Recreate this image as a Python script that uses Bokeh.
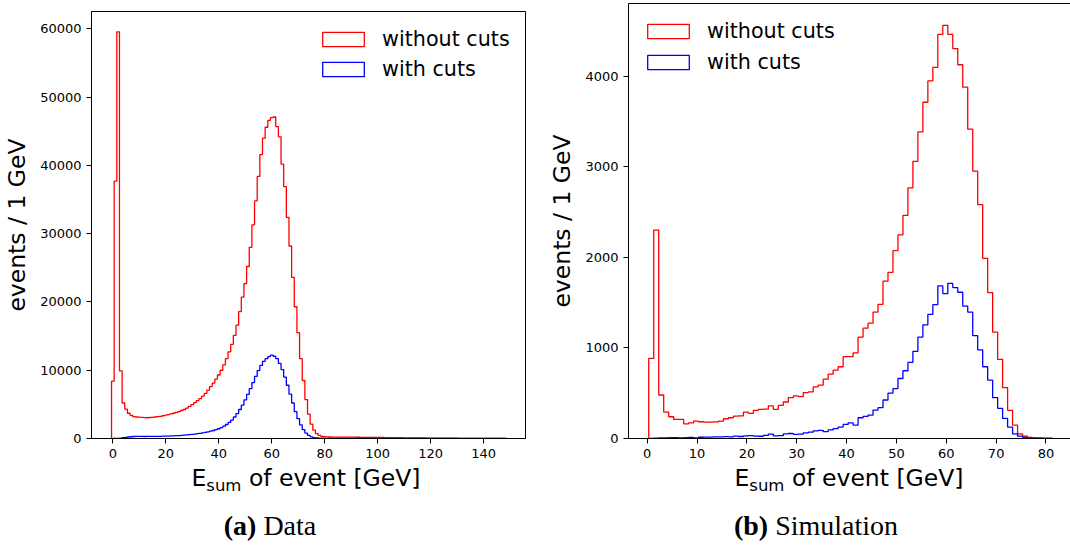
import numpy as np
from bokeh.plotting import figure
from bokeh.models import (Range1d, FixedTicker, Legend, LegendItem, Div,
                          NumeralTickFormatter, ColumnDataSource, LinearAxis)
from bokeh.layouts import row, column
from bokeh.embed import file_html
from bokeh.resources import INLINE

# ---------------- data: panel (a) Data, 1 GeV bins starting at -0.5 ----------------
data_first_edge = -0.5
data_bin_width = 1.0
data_without_cuts = [
    8400, 37700, 59580, 9900, 5200, 4300, 3700, 3400, 3200, 3150,
    3120, 3100, 3060, 3040, 3080, 3100, 3150, 3200, 3250, 3330,
    3420, 3500, 3600, 3700, 3820, 3950, 4100, 4250, 4450, 4700,
    4950, 5250, 5550, 5850, 6200, 6600, 7100, 7600, 8100, 8700,
    9300, 10000, 10800, 11700, 12700, 13800, 15100, 16600, 18600, 20700,
    22700, 25200, 28000, 31300, 34800, 38400, 41600, 44000, 45600, 46600,
    47000, 47100, 45700, 44200, 40200, 36900, 32400, 28200, 23600, 19300,
    15500, 11700, 8500, 5700, 3560, 2100, 1220, 700, 450, 320,
    260, 235, 222, 214, 210, 203, 200, 198, 193, 196,
    189, 190, 184, 186, 178, 175, 171, 168, 164, 160,
    154, 150, 146, 139, 136, 130, 126, 119, 116, 110,
    106, 99, 95, 91, 85, 82, 77, 74, 70, 65,
    62, 57, 55, 51, 49, 45, 43, 40, 37, 35,
    33, 30, 29, 27, 25, 23, 21, 19, 17, 15,
    13, 11, 9, 7, 5, 4, 3, 2, 1,
]
data_with_cuts = [
    0, 0, 0, 60, 120, 170, 220, 260, 290, 300,
    300, 300, 295, 300, 300, 305, 310, 315, 320, 340,
    350, 360, 375, 390, 410, 430, 455, 485, 520, 560,
    600, 650, 700, 760, 830, 900, 980, 1070, 1170, 1290,
    1430, 1600, 1800, 2050, 2350, 2700, 3150, 3650, 4250, 4900,
    5650, 6450, 7300, 8200, 9100, 9950, 10700, 11300, 11700, 12000,
    12200, 12050, 11700, 11000, 10100, 9000, 7800, 6500, 5200, 3950,
    2900, 2000, 1300, 800, 450, 250, 140, 80, 50, 35,
    28, 25, 24, 23, 22, 21, 20, 20, 19, 18,
    18, 17, 16, 16, 15, 14, 14, 13, 13, 12,
    12, 11, 11, 10, 10, 9, 9, 8, 8, 8,
    7, 7, 7, 6, 6, 6, 5, 5, 5, 5,
    4, 4, 4, 4, 3, 3, 3, 3, 3, 2,
    2, 2, 2, 2, 2, 1, 1, 1, 1, 1,
    1, 1, 1, 0, 0, 0, 0, 0, 0,
]

# ---------------- data: panel (b) Simulation, 1 GeV bins starting at 0.3 ----------------
sim_first_edge = 0.3
sim_bin_width = 1.0
sim_without_cuts = [
    884, 2300, 480, 292, 240, 211, 211, 162, 173, 192,
    185, 181, 181, 183, 192, 218, 229, 248, 250, 292,
    278, 311, 322, 324, 359, 322, 366, 403, 451, 470,
    463, 507, 514, 570, 589, 655, 711, 755, 792, 903,
    903, 944, 1118, 1218, 1273, 1395, 1481, 1736, 1833, 2073,
    2248, 2462, 2766, 3059, 3384, 3711, 3947, 4095, 4460, 4560,
    4460, 4303, 4125, 3877, 3414, 2951, 2581, 1989, 1611, 1173,
    873, 562, 311, 148, 52, 26, 12, 8, 6, 5,
    3,
]
sim_with_cuts = [
    0, 4, 6, 8, 10, 9, 8, 10, 12, 8,
    14, 16, 15, 17, 18, 20, 18, 26, 22, 30,
    32, 27, 25, 34, 48, 30, 32, 50, 55, 46,
    48, 62, 70, 85, 90, 75, 95, 110, 126, 155,
    173, 148, 229, 244, 259, 314, 340, 425, 500, 551,
    662, 748, 840, 962, 1118, 1255, 1370, 1477, 1684, 1600,
    1711, 1666, 1614, 1462, 1395, 1136, 978, 792, 644, 451,
    333, 222, 126, 52, 26, 12, 5, 3, 2, 1,
    0,
]

# ---------------- axes / labels ----------------
a_x_ticks = [0, 20, 40, 60, 80, 100, 120, 140]
a_y_ticks = [0, 10000, 20000, 30000, 40000, 50000, 60000]
b_x_ticks = [0, 10, 20, 30, 40, 50, 60, 70, 80]
b_y_ticks = [0, 1000, 2000, 3000, 4000]
series_labels = ["without cuts", "with cuts"]
series_colors = ["#ff0000", "#0000ff"]
y_label = "events / 1 GeV"
x_label_main = "E"
x_label_sub = "sum"
x_label_rest = " of event [GeV]"
captions = [("(a)", "Data"), ("(b)", "Simulation")]

SANS = "DejaVu Sans"
SERIF = "Liberation Serif"
FIG_H = 463


def step_source(first_edge, width, counts):
    n = len(counts)
    edges = first_edge + width * np.arange(n + 1)
    xs = np.concatenate([[edges[0]], edges])
    ys = np.concatenate([[0.0], np.asarray(counts, dtype=float), [0.0]])
    return ColumnDataSource(data=dict(x=xs, y=ys))


def style_axis(ax, ticks):
    ax.ticker = FixedTicker(ticks=ticks)
    ax.formatter = NumeralTickFormatter(format="0")
    ax.axis_line_color = "black"
    ax.axis_line_width = 1
    ax.major_tick_line_color = "black"
    ax.major_tick_line_width = 1
    ax.major_tick_out = 5
    ax.major_tick_in = 0
    ax.minor_tick_line_color = None
    ax.major_label_text_font = SANS
    ax.major_label_text_font_size = "13px"
    ax.major_label_text_color = "black"
    ax.major_label_standoff = 5


def make_panel(width, xr, yr, borders, x_ticks, y_ticks, first_edge, bw,
               without, with_, legend_loc, legend_spacing, right_spine=True):
    bl, br, bt, bb = borders
    p = figure(width=width, height=FIG_H, x_range=Range1d(*xr), y_range=Range1d(*yr),
               output_backend="svg", toolbar_location=None,
               min_border_left=bl, min_border_right=br, min_border_top=bt,
               min_border_bottom=bb)
    p.grid.visible = False
    p.background_fill_color = "white"
    p.border_fill_color = "white"
    style_axis(p.below[0], x_ticks)
    style_axis(p.left[0], y_ticks)
    yax = p.left[0]
    yax.axis_label = y_label
    yax.axis_label_text_font = SANS
    yax.axis_label_text_font_size = "23.5px"
    yax.axis_label_text_font_style = "normal"
    yax.axis_label_text_color = "black"
    yax.axis_label_standoff = 6
    if right_spine:
        p.outline_line_color = "black"
        p.outline_line_width = 1
        p.outline_line_alpha = 1
    else:
        p.outline_line_color = None
        top = LinearAxis(ticker=FixedTicker(ticks=[]), major_tick_out=0, major_tick_in=0,
                         major_label_standoff=0, axis_line_color="black",
                         axis_line_width=1, minor_tick_line_color=None,
                         major_tick_line_color=None, major_label_text_font_size="0px")
        p.add_layout(top, "above")

    for counts, color in zip([without, with_], series_colors):
        src = step_source(first_edge, bw, counts)
        p.step(x="x", y="y", source=src, mode="after", line_color=color, line_width=1.3)

    # legend swatches: outlined rectangles (as matplotlib's step patches), hidden in plot
    items = []
    for lab, color in zip(series_labels, series_colors):
        r = p.quad(left=[first_edge], right=[first_edge], top=[0], bottom=[0], fill_alpha=0,
                   line_color=color, line_width=1.3, visible=False)
        items.append(LegendItem(label=lab, renderers=[r]))
    leg = Legend(items=items, location=legend_loc, orientation="vertical",
                 glyph_width=52, glyph_height=18, label_standoff=13,
                 label_text_font=SANS, label_text_font_size="20.7px",
                 label_text_color="black", spacing=legend_spacing, padding=0, margin=0,
                 border_line_color=None, background_fill_alpha=0, click_policy="none")
    p.add_layout(leg)
    return p


# panel (a): page frame 88..525 x 11..438
p1 = make_panel(545, (-8.06, 155.8), (0, 62555), (88, 20, 11, 25),
                a_x_ticks, a_y_ticks, data_first_edge, data_bin_width,
                data_without_cuts, data_with_cuts, (226, 357), 6)
# panel (b): page frame 627..1070 x 3..438 (right spine lies outside the picture)
p2 = make_panel(525, (-3.764, 84.92), (0, 4801), (82, 0, 3, 25),
                b_x_ticks, b_y_ticks, sim_first_edge, sim_bin_width,
                sim_without_cuts, sim_with_cuts, (14, 364), 7,
                right_spine=False)


def xlabel_html(center_x):
    return ('<div style="position:absolute;left:%dpx;top:4px;width:400px;text-align:center;'
            'font-family:\'DejaVu Sans\';font-size:23.5px;line-height:1;white-space:nowrap;'
            'color:#000">%s<span style="font-size:16.5px;position:relative;top:4.5px">%s</span>%s</div>'
            % (center_x - 200, x_label_main, x_label_sub, x_label_rest))


def caption_html(center_x, cap):
    return ('<div style="position:absolute;left:%dpx;top:49px;width:300px;text-align:center;'
            'font-family:\'Liberation Serif\';font-size:28px;line-height:1;white-space:nowrap;'
            'color:#000"><b>%s</b> %s</div>' % (center_x - 150, cap[0], cap[1]))


html = ('<div style="position:relative;width:1070px;height:84px;">'
        + xlabel_html(306) + xlabel_html(849)
        + caption_html(270, captions[0]) + caption_html(816, captions[1])
        + '</div>')
below = Div(text=html, width=1070, height=547 - FIG_H, margin=0)

layout = column(row(column(p1), column(p2)), below)
open("out.html", "w").write(file_html(layout, INLINE))
